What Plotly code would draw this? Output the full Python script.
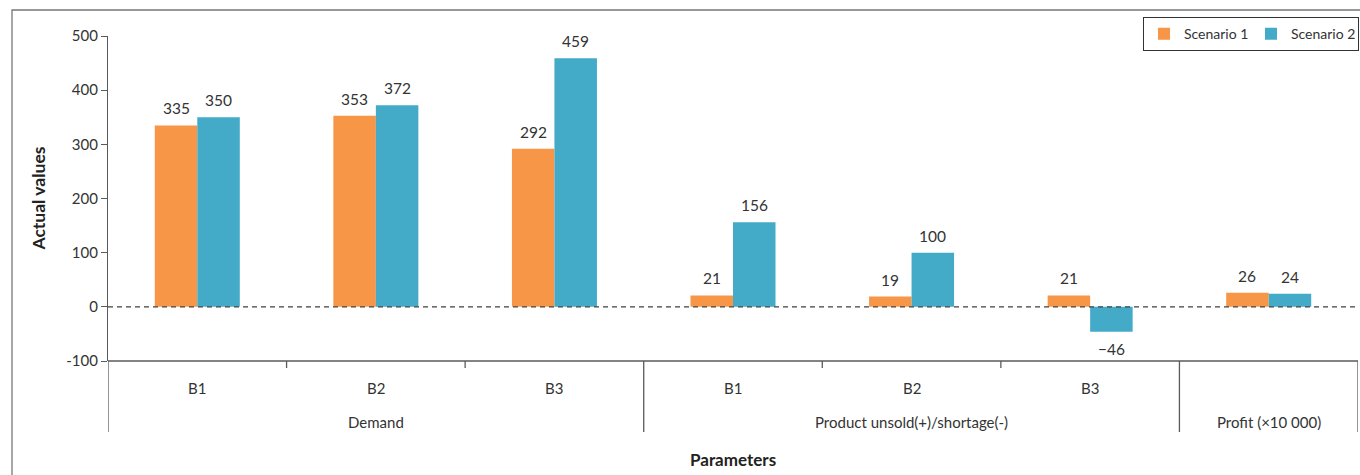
import plotly.graph_objects as go

# Category structure of the x axis
groups = ["Demand", "Product unsold(+)/shortage(-)", "Profit (×10 000)"]
group_sizes = [3, 3, 1]
sub_labels = ["B1", "B2", "B3", "B1", "B2", "B3", ""]

# Series values
scenario_1 = [335, 353, 292, 21, 19, 21, 26]
scenario_2 = [350, 372, 459, 156, 100, -46, 24]

# Y axis ticks
y_ticks = [-100, 0, 100, 200, 300, 400, 500]

ORANGE = "#F79646"
BLUE = "#43ABC8"
AXIS = "#5A5A5A"
TEXT = "#333333"
FONT = "Lato, Open Sans, sans-serif"

W, H = 1360, 475
ML, MR, MT, MB = 108, 2, 36, 114
BARGAP = 0.524

# unique category ids, one per bar group
cats = []
k = 0
for g, n in zip(groups, group_sizes):
    for _ in range(n):
        cats.append(f"{g}|{sub_labels[k]}|{k}")
        k += 1


def fmt(v):
    return f"\u2212{abs(v)}" if v < 0 else str(v)


series = [("Scenario 1", scenario_1, ORANGE), ("Scenario 2", scenario_2, BLUE)]

fig = go.Figure()
for name, vals, col in series:
    fig.add_trace(go.Bar(
        x=cats, y=vals, name=name,
        marker=dict(color=col, line=dict(width=0)),
        cliponaxis=False,
    ))

shapes = []
# dashed zero line
shapes.append(dict(type="line", xref="paper", yref="y", x0=0, x1=1, y0=0, y1=0,
                   line=dict(color="#404040", width=1.3, dash="5px,4px"), layer="above"))
# x axis baseline at the bottom of the plot
shapes.append(dict(type="line", xref="paper", yref="paper", x0=0, x1=1, y0=0, y1=0,
                   line=dict(color=AXIS, width=1.3)))

# boundary ticks (short) and group dividers (long)
Y_SHORT = -0.0215
Y_LONG = -0.2185
group_edges = [-0.5]
acc = 0
for n in group_sizes:
    acc += n
    group_edges.append(acc - 0.5)
for i in range(len(cats) + 1):
    xb = i - 0.5
    y_end = Y_LONG if xb in group_edges else Y_SHORT
    shapes.append(dict(type="line", xref="x", yref="paper", x0=xb, x1=xb, y0=0, y1=y_end,
                       line=dict(color=AXIS, width=1.3)))

# outer frame around the figure
shapes.append(dict(type="rect", xref="paper", yref="paper", x0=-0.0768, x1=1.05, y0=-0.5, y1=1.08,
                   line=dict(color="#777777", width=1.3), fillcolor="rgba(0,0,0,0)"))

annotations = []

# value labels above (or below) each bar
cat_px = (W - ML - MR) / len(cats)
bar_px = cat_px * (1 - BARGAP) / len(series)
for j, (name, vals, col) in enumerate(series):
    dx = (j - (len(series) - 1) / 2) * bar_px
    for c, v in zip(cats, vals):
        annotations.append(dict(
            x=c, y=v, xref="x", yref="y", text=fmt(v), showarrow=False,
            xshift=dx, yshift=6 if v >= 0 else -6,
            yanchor="bottom" if v >= 0 else "top",
            font=dict(size=15.5, color=TEXT, family=FONT)))

for i, s in enumerate(sub_labels):
    if s:
        annotations.append(dict(x=cats[i], y=-0.0831, xref="x", yref="paper", text=s, showarrow=False,
                                font=dict(size=15, color=TEXT, family=FONT), yanchor="middle"))
start = 0
for g, n in zip(groups, group_sizes):
    center = start + (n - 1) / 2
    annotations.append(dict(x=center, y=-0.1877, xref="x", yref="paper", text=g, showarrow=False,
                            font=dict(size=15, color=TEXT, family=FONT), yanchor="middle"))
    start += n

annotations.append(dict(x=0.5, y=-0.3046, xref="paper", yref="paper", text="<b>Parameters</b>",
                        showarrow=False, font=dict(size=17, color="#222222", family=FONT),
                        yanchor="middle"))
annotations.append(dict(x=-0.056, y=0.5, xref="paper", yref="paper", text="<b>Actual values</b>",
                        showarrow=False, textangle=-90, font=dict(size=17.5, color="#222222", family=FONT),
                        xanchor="center", yanchor="middle"))

fig.update_layout(
    width=W, height=H,
    margin=dict(l=ML, r=MR, t=MT, b=MB, autoexpand=False),
    paper_bgcolor="white", plot_bgcolor="white",
    barmode="group", bargap=BARGAP, bargroupgap=0,
    font=dict(family=FONT, color=TEXT),
    showlegend=True,
    legend=dict(orientation="h", x=0.828, y=1.058, xanchor="left", yanchor="top",
                bordercolor="#333333", borderwidth=1, bgcolor="white",
                font=dict(size=14, color=TEXT, family=FONT), itemwidth=30,
                entrywidth=62, entrywidthmode="pixels", tracegroupgap=0),
    xaxis=dict(type="category", showticklabels=False, ticks="", showline=False,
               showgrid=False, zeroline=False, range=[-0.5, len(cats) - 0.5]),
    yaxis=dict(range=[-100, 500], tickvals=y_ticks, ticktext=[str(v) for v in y_ticks],
               ticks="outside", ticklen=6, tickcolor=AXIS, showline=True, linecolor=AXIS,
               linewidth=1.3, showgrid=False, zeroline=False,
               tickfont=dict(size=15, color=TEXT, family=FONT)),
    shapes=shapes,
    annotations=annotations,
)

fig.write_html("out.html")
